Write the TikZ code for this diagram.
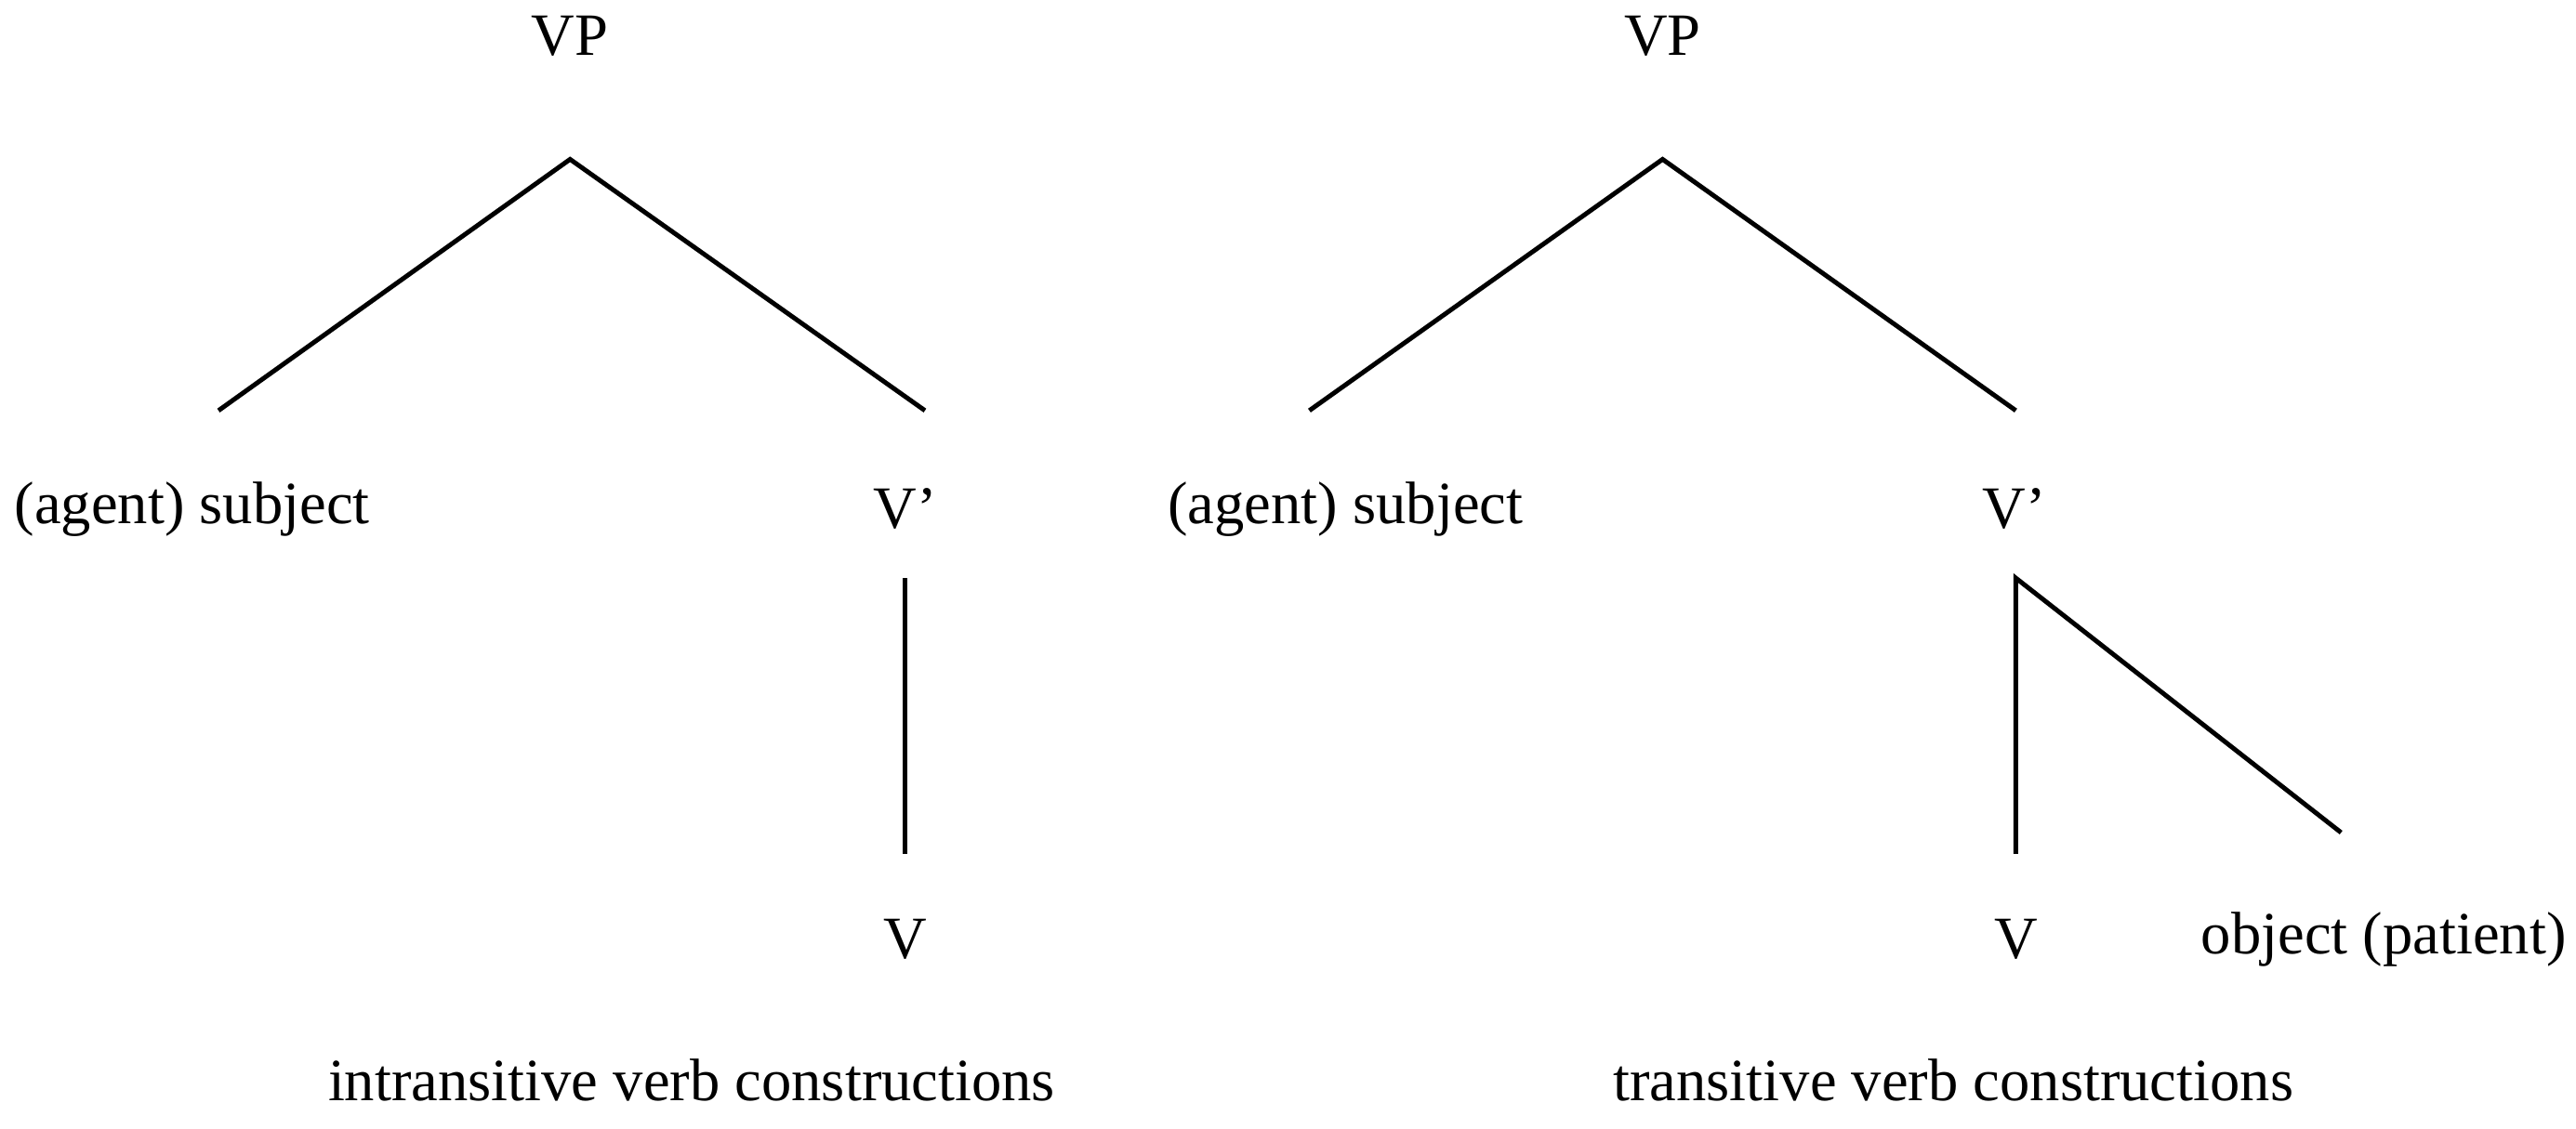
\documentclass[tikz,border=0pt]{standalone}
\usepackage{fontspec}
\setmainfont{Liberation Serif}
\begin{document}
\begin{tikzpicture}[x=0.02cm,y=-0.02cm,
  lbl/.style={inner sep=0pt,font=\fontsize{20.8}{24}\selectfont},
  br/.style={line width=1.6pt}]
\useasboundingbox (0,0) rectangle (1568,687);
% left tree
\node[lbl] (vp1) at (347,22) {VP};
\node[lbl] (s1) at (117,310) {(agent) subject};
\node[lbl] (vb1) at (551,310) {V’};
\node[lbl] (v1) at (551,572) {V};
\node[lbl] (c1) at (421,658) {intransitive verb constructions};
\coordinate (a1) at (347,97);
\coordinate (a1l) at (133,250);
\coordinate (a1r) at (563,250);
\coordinate (b1) at (551,352);
\coordinate (b1d) at (551,520);
\draw[br] (a1l) -- (a1) -- (a1r);
\draw[br] (b1) -- (b1d);
% right tree
\node[lbl] (vp2) at (1012,22) {VP};
\node[lbl] (s2) at (819,310) {(agent) subject};
\node[lbl] (vb2) at (1226,310) {V’};
\node[lbl] (v2) at (1227,572) {V};
\node[lbl] (o2) at (1451,572) {object (patient)};
\node[lbl] (c2) at (1189,658) {transitive verb constructions};
\coordinate (a2) at (1012,97);
\coordinate (a2l) at (797,250);
\coordinate (a2r) at (1227,250);
\coordinate (b2) at (1227,352);
\coordinate (b2d) at (1227,520);
\coordinate (b2r) at (1425,507);
\draw[br] (a2l) -- (a2) -- (a2r);
\draw[br] (b2d) -- (b2) -- (b2r);
\end{tikzpicture}
\end{document}
